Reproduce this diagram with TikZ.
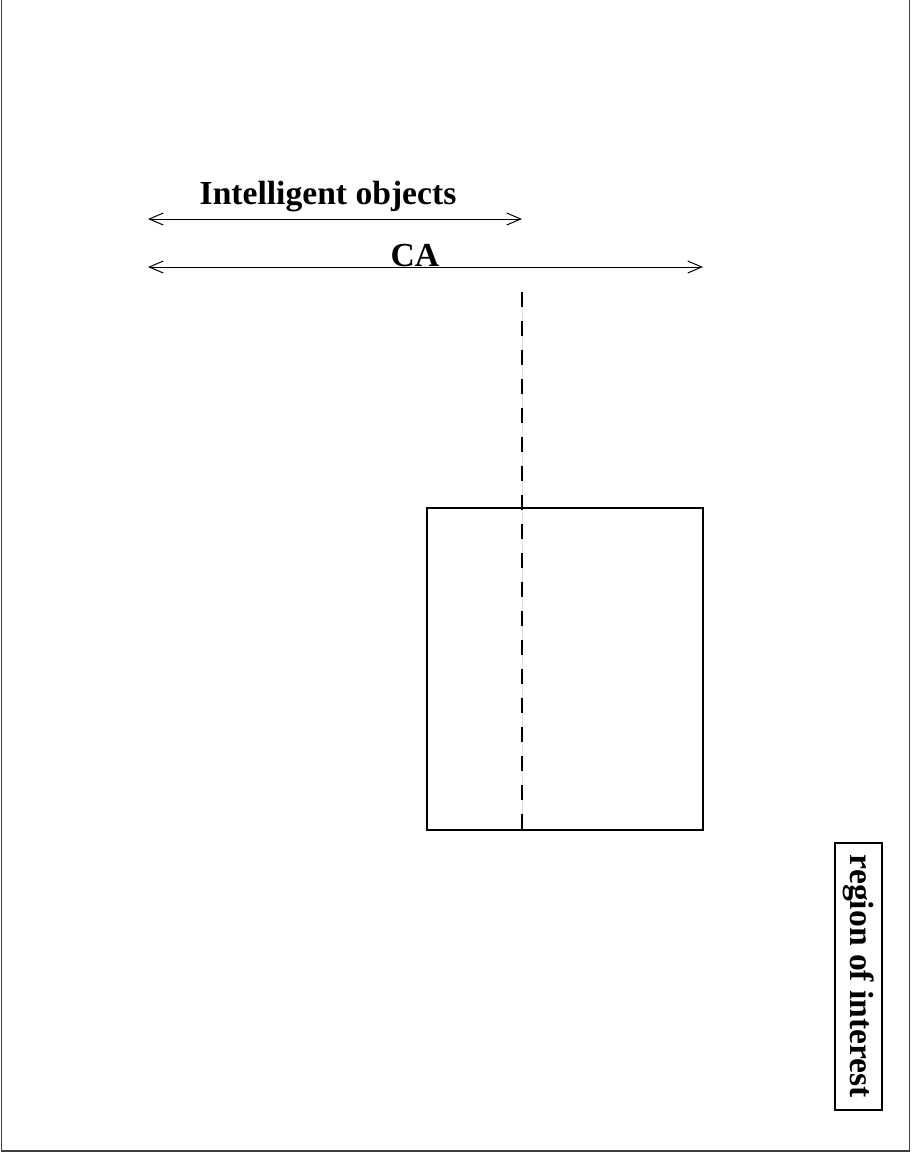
\documentclass[tikz,border=0pt]{standalone}
\usepackage{fontspec}
\setmainfont{Liberation Serif}
\usetikzlibrary{arrows.meta}
\begin{document}
\begin{tikzpicture}[x=1pt,y=-1pt,
  lbl/.style={font=\fontsize{33.6}{34}\selectfont\bfseries, inner sep=0pt},
  dimline/.style={line width=1pt, {Straight Barb[length=14pt,width=12pt,line width=1pt]}-{Straight Barb[length=14pt,width=12pt,line width=1pt]}},
  frame/.style={line width=1.2pt, draw=black!75},
  boxline/.style={line width=2pt},
  dashline/.style={line width=2.2pt, dash pattern=on 15pt off 14pt}]
\useasboundingbox (0,0) rectangle (911,1152);
% outer frame (no top edge)
\coordinate (tl) at (1.5,0);
\coordinate (bl) at (1.5,1151);
\coordinate (br) at (909.5,1151);
\coordinate (tr) at (909.5,0);
\draw[frame] (tl) -- (bl) -- (br) -- (tr);
% arrows
\coordinate (a1l) at (148,219);
\coordinate (a1r) at (522,219);
\coordinate (a2l) at (148,267);
\coordinate (a2r) at (703,267);
\draw[dimline] (a1l) -- (a1r);
\draw[dimline] (a2l) -- (a2r);
\node[lbl] (io) at (328,197) {Intelligent objects};
\node[lbl] (ca) at (415,256) {CA};
% rectangle
\node[draw, boxline, minimum width=276pt, minimum height=322pt, inner sep=0pt] (roi) at (565,669) {};
% dashed line
\coordinate (dtop) at (522,291.5);
\coordinate (dbot) at (522,829);
\draw[black!12, line width=0.8pt] (dtop) -- (dbot);
\draw[dashline] (dtop) -- (dbot);
% rotated label
\node[draw, line width=1.6pt, rotate=-90, minimum width=267pt, minimum height=47pt, inner sep=0pt,
  font=\fontsize{33.6}{34}\selectfont\bfseries] (reg) at (858.5,976.5) {region of interest};
\end{tikzpicture}
\end{document}
